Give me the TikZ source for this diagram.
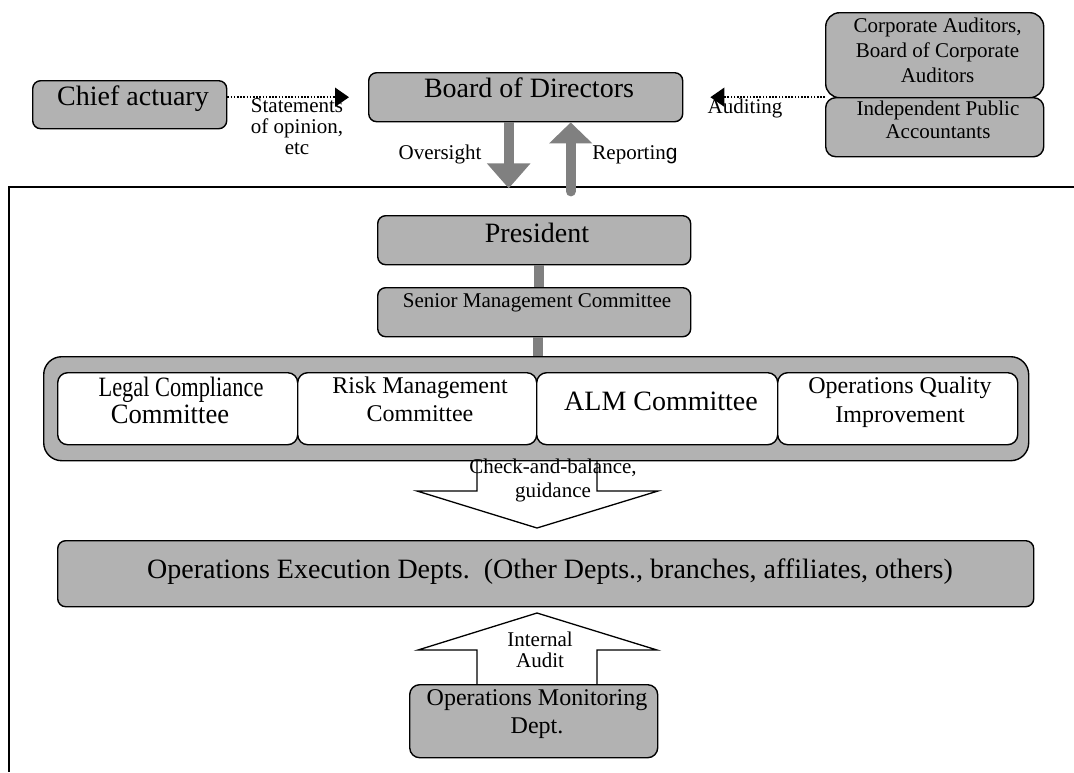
\documentclass[tikz,border=0pt]{standalone}
\usepackage{fontspec}
\usepackage{graphicx}
\setmainfont{Liberation Serif}
\newfontfamily\sansg{Liberation Sans}
\usetikzlibrary{arrows.meta,calc}
\definecolor{boxgray}{RGB}{178,178,178}
\definecolor{arrgray}{RGB}{128,128,128}
\newcommand{\ctab}[1]{\begin{tabular}[t]{@{}c@{}}#1\end{tabular}}
\newcommand{\fbig}{\fontsize{28}{32}\selectfont}
\newcommand{\fmid}{\fontsize{24}{28}\selectfont}
\begin{document}
\begin{tikzpicture}[x=1pt,y=-1pt,
  gbox/.style={draw=black, fill=boxgray, line width=1.4pt, anchor=north west, inner sep=0pt, rounded corners=8pt},
  wbox/.style={gbox, fill=white, rounded corners=10pt},
  lbl/.style={anchor=base, inner sep=0pt, font=\fontsize{21}{24}\selectfont},
  bigarr/.style={draw=arrgray, line width=10pt},
  dotarr/.style={line width=1.7pt, dash pattern=on 1.6pt off 1.6pt, -{Triangle[width=19pt,length=14pt]}},
  blockarr/.style={draw=black, fill=white, line width=1.3pt, line join=miter},
  conn/.style={draw=arrgray, line width=10pt}]
\path[use as bounding box] (0,0) rectangle (1074,772);
% outer frame
\draw[line width=1.3pt, overlay] (1074,187) -- (9,187) -- (9,772);
% top row boxes
\node[gbox, minimum width=194pt, minimum height=48pt] (chief) at (32,80) {};
\node[gbox, minimum width=314pt, minimum height=49pt] (board) at (368,72) {};
\node[gbox, rounded corners=14pt, minimum width=218pt, minimum height=85pt] (corp) at (825,12) {};
\node[gbox, rounded corners=10pt, minimum width=218pt, minimum height=59pt] (indep) at (825,97) {};
\node[lbl, font=\fbig] (chiefT) at (133,105) {Chief actuary};
\node[lbl, font=\fbig] (boardT) at (529,97) {Board of Directors};
\node[lbl, font=\fontsize{21}{25}\selectfont] (corpT) at (937.5,32) {\ctab{Corporate Auditors,\\Board of Corporate\\Auditors}};
\node[lbl, font=\fontsize{21}{23}\selectfont] (indepT) at (938,115) {\ctab{Independent Public\\Accountants}};
% dotted arrows
\coordinate (actTip) at ([xshift=-19pt]board.west);
\draw[dotarr] (chief.east |- actTip) -- (actTip);
\node[lbl, font=\fontsize{21}{21}\selectfont] (stmt) at (297,112) {\ctab{Statements\\of opinion,\\etc}};
\coordinate (audTip) at ([xshift=27pt]board.east);
\draw[dotarr] (corp.south west |- audTip) -- (audTip);
\node[lbl] (audT) at (745,113) {Auditing};
% oversight / reporting
\draw[bigarr, -{Triangle[width=42pt,length=25pt]}] ([xshift=-17pt]board.south) -- ++(0,66);
\draw[bigarr, line cap=round, -{Triangle[width=42pt,length=21pt]}] ([xshift=45pt,yshift=-69pt]board.south) -- ([xshift=45pt]board.south);
\node[lbl] (ovsT) at (440,159) {Oversight};
\node[lbl] (repT) at (635,159) {Reportin{\sansg g}};
% president / senior
\node[gbox, minimum width=313pt, minimum height=49pt] (pres) at (377,215) {};
\node[gbox, minimum width=313pt, minimum height=49pt] (senior) at (377,287) {};
\draw[conn] ([xshift=4.5pt]pres.south) -- ([xshift=4.5pt]senior.north);
\node[lbl, font=\fbig] (presT) at (537,242) {President};
\node[lbl] (seniorT) at (537,307) {Senior Management Committee};
% check-and-balance arrow
\draw[blockarr] (477,460) -- (477,491) -- (417,491) -- (537,528) -- (658,491) -- (597,491) -- (597,460);
% committee container
\node[gbox, rounded corners=18pt, minimum width=985pt, minimum height=104pt] (container) at (43,356) {};
\draw[conn] ([xshift=4pt]senior.south) -- ([xshift=4pt]senior.south |- container.north);
\node[wbox, minimum width=240pt, minimum height=72pt] (legal) at (57,372) {};
\node[wbox, minimum width=239pt, minimum height=72pt] (risk) at (297,372) {};
\node[wbox, minimum width=241pt, minimum height=72pt] (alm) at (536,372) {};
\node[wbox, minimum width=240pt, minimum height=72pt] (opsq) at (777,372) {};
\node[lbl, font=\fbig] (legalA) at (181,396) {\scalebox{0.8}[1]{Legal Compliance}};
\node[lbl, font=\fbig] (legalB) at (170,423) {\scalebox{0.95}[1]{Committee}};
\node[lbl, font=\fontsize{24}{28}\selectfont] (riskT) at (420,393) {\ctab{Risk Management\\Committee}};
\node[lbl, font=\fbig] (almT) at (661,410) {ALM Committee};
\node[lbl, font=\fontsize{24}{29}\selectfont] (opsqT) at (900,393) {\ctab{Operations Quality\\Improvement}};
\node[lbl] (cbT) at (553,473) {\ctab{Check-and-balance,\\guidance}};
% execution
\node[gbox, minimum width=976pt, minimum height=66pt] (exec) at (57,540) {};
\node[lbl, font=\fbig] (execT) at (550,578) {Operations Execution Depts.\ \ (Other Depts., branches, affiliates, others)};
% internal audit
\draw[blockarr] (477,684) -- (477,650) -- (418,650) -- (537,613) -- (657,650) -- (597,650) -- (597,684);
\node[lbl, font=\fontsize{21}{21}\selectfont] (iaT) at (540,646) {\ctab{Internal\\Audit}};
\node[gbox, rounded corners=10pt, minimum width=248pt, minimum height=73pt] (monitor) at (409,684) {};
\node[lbl, font=\fmid] (monT) at (537,705) {\ctab{Operations Monitoring\\Dept.}};
\end{tikzpicture}
\end{document}
